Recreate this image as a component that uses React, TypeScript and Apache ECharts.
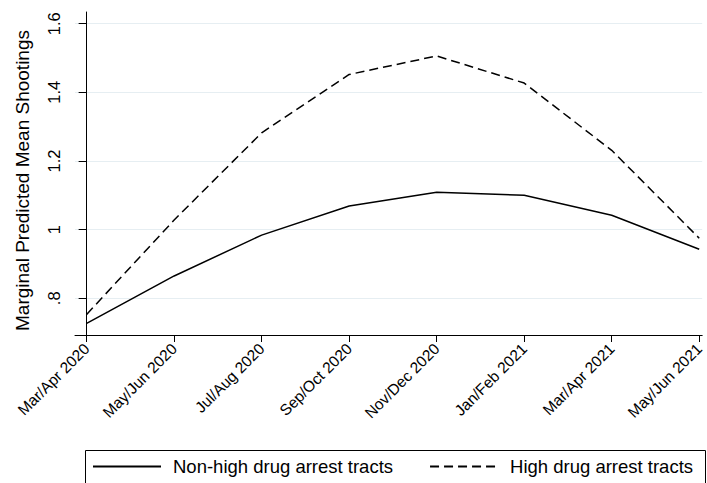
import React, { useEffect, useRef } from "react";
import * as echarts from "echarts";

const categories = [
  "Mar/Apr 2020",
  "May/Jun 2020",
  "Jul/Aug 2020",
  "Sep/Oct 2020",
  "Nov/Dec 2020",
  "Jan/Feb 2021",
  "Mar/Apr 2021",
  "May/Jun 2021",
];
const nonHigh = [0.727, 0.865, 0.984, 1.069, 1.109, 1.1, 1.042, 0.943];
const high = [0.753, 1.028, 1.282, 1.452, 1.506, 1.427, 1.231, 0.975];
const yTicks = [0.8, 1.0, 1.2, 1.4, 1.6];
const yTickLabels = [".8", "1", "1.2", "1.4", "1.6"];

const FONT = "'Liberation Sans', Arial, sans-serif";

export default function App() {
  const ref = useRef<HTMLDivElement>(null);
  useEffect(() => {
    if (!ref.current) return;
    const chart = echarts.init(ref.current, undefined, { renderer: "svg" });
    const xIdx = categories.map((_, i) => i);
    chart.setOption({
      animation: false,
      backgroundColor: "#ffffff",
      textStyle: { fontFamily: FONT },
      grid: { left: 75, right: 0, top: 12, bottom: 148 },
      xAxis: {
        type: "value",
        min: -0.133,
        max: 7.034,
        axisLine: { show: true, lineStyle: { color: "#000", width: 1 } },
        axisTick: { show: true, length: 7, customValues: xIdx, lineStyle: { color: "#000" } },
        splitLine: { show: false },
        axisLabel: {
          customValues: xIdx,
          rotate: 45,
          margin: 11,
          fontSize: 15.5,
          color: "#000",
          fontFamily: FONT,
          formatter: (v: number) => categories[Math.round(v)] ?? "",
        },
      },
      yAxis: {
        type: "value",
        min: 0.693,
        max: 1.634,
        name: "Marginal Predicted Mean Shootings",
        nameLocation: "middle",
        nameGap: 43,
        nameTextStyle: { fontSize: 19, color: "#000", fontFamily: FONT, padding: [0, 14, 0, 0] },
        axisLine: { show: true, lineStyle: { color: "#000", width: 1 } },
        axisTick: { show: true, length: 8, customValues: yTicks, lineStyle: { color: "#000" } },
        splitLine: { show: true, lineStyle: { color: "#e6eef2", width: 1 } },
        axisLabel: {
          customValues: yTicks,
          rotate: 90,
          margin: 13,
          fontSize: 16.5,
          color: "#000",
          fontFamily: FONT,
          formatter: (v: number) => {
            const i = yTicks.findIndex((t) => Math.abs(t - v) < 1e-6);
            return i >= 0 ? yTickLabels[i] : "";
          },
        },
      },
      legend: {
        left: 92,
        top: 457,
        padding: 0,
        itemWidth: 68,
        itemHeight: 14,
        itemGap: 36,
        itemStyle: { opacity: 0 },
        textStyle: { fontSize: 18.5, color: "#000", fontFamily: FONT, padding: [0, 0, 0, 7] },
        data: ["Non-high drug arrest tracts", "High drug arrest tracts"],
      },
      graphic: [
        {
          type: "rect",
          shape: { x: 85.5, y: 450.5, width: 620, height: 60 },
          style: { fill: "none", stroke: "#000", lineWidth: 1 },
          silent: true,
        },
      ],
      series: [
        {
          name: "Non-high drug arrest tracts",
          type: "line",
          data: nonHigh.map((v, i) => [i, v]),
          symbol: "none",
          lineStyle: { color: "#000", width: 1.5, type: "solid" },
          itemStyle: { color: "#000" },
        },
        {
          name: "High drug arrest tracts",
          type: "line",
          data: high.map((v, i) => [i, v]),
          symbol: "none",
          lineStyle: { color: "#000", width: 1.5, type: [9, 5] },
          itemStyle: { color: "#000" },
        },
      ],
    });
    return () => chart.dispose();
  }, []);
  return (
    <div
      ref={ref}
      style={{ position: "fixed", left: 0, top: 0, width: 707, height: 483 }}
    />
  );
}
